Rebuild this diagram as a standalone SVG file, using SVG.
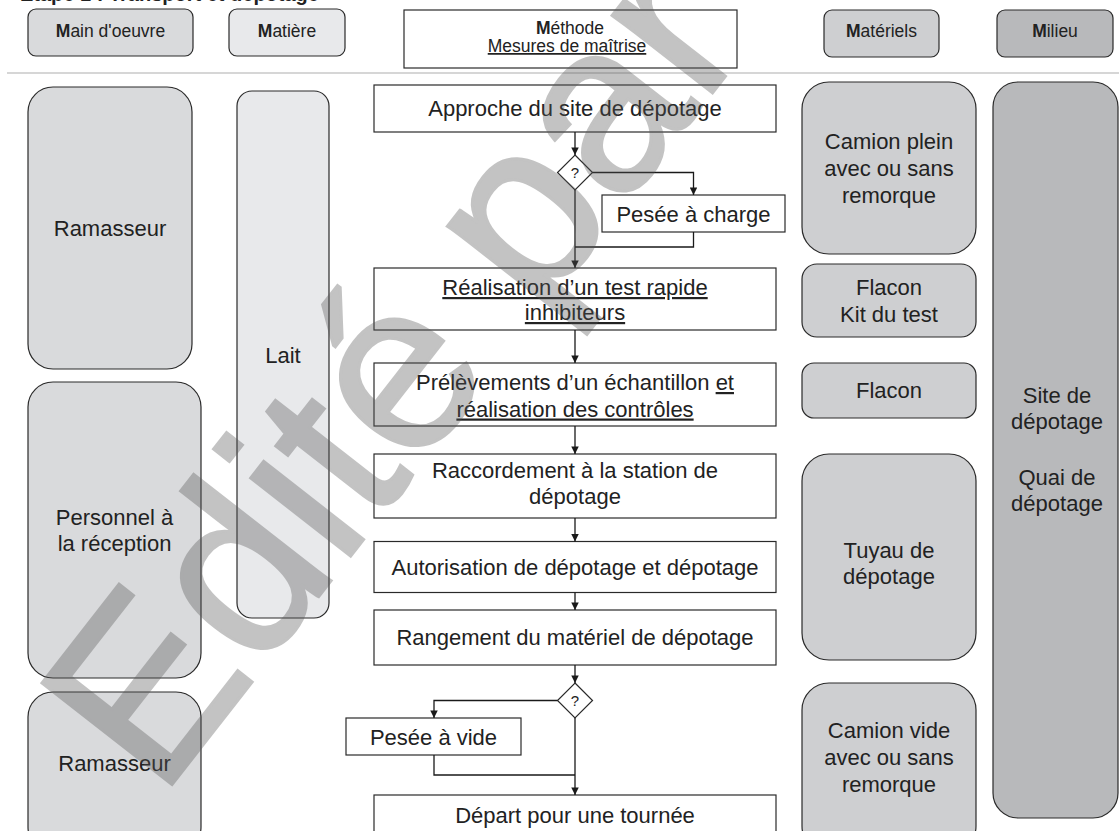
<svg xmlns="http://www.w3.org/2000/svg" width="1119" height="831" viewBox="0 0 1119 831">
<defs>
<marker id="arr" viewBox="0 0 10 10" refX="10" refY="5" markerWidth="8" markerHeight="7.5" orient="auto" markerUnits="userSpaceOnUse">
<path d="M0,0 L10,5 L0,10 z" fill="#1a1a1a"/>
</marker>
<style>
text{font-family:"Liberation Sans",Arial,sans-serif;fill:#222;}
.h{font-size:17.5px;text-anchor:middle;}
.t{font-size:22px;text-anchor:middle;}
.q{font-size:15px;text-anchor:middle;}
.b{font-weight:bold;}
.u{text-decoration:underline;}
.box{stroke:#2a2a2a;stroke-width:1.2;}
.c1{fill:#d9dadc;}
.c2{fill:#e8e9eb;}
.c3{fill:#cecfd1;}
.c4{fill:#b8b9bb;}
.w{fill:#fff;}
.ln{fill:none;stroke:#1a1a1a;stroke-width:1.3;}
.ar{marker-end:url(#arr);}
.wm{font-family:"Liberation Sans",Arial,sans-serif;font-size:240px;fill:#555;stroke:#555;stroke-width:3;opacity:0.35;}
</style>
</defs>
<rect width="1119" height="831" fill="#fff"/>
<text x="20" y="0.5" style="font-size:20px;font-weight:bold">Étape 1 : Transport et dépotage</text>

<g id="hdr-main"><rect class="box c1" x="28" y="9" width="165" height="47" rx="8"/><text class="h" x="110.5" y="37"><tspan class="b">M</tspan>ain d'oeuvre</text></g>
<g id="hdr-matiere"><rect class="box c2" x="229" y="9" width="116" height="47" rx="8"/><text class="h" x="287" y="37"><tspan class="b">M</tspan>atière</text></g>
<g id="hdr-methode"><rect class="box w" x="404" y="10" width="333" height="58"/><text class="h" x="570" y="34"><tspan class="b">M</tspan>éthode</text><text class="h u" x="567" y="52">Mesures de maîtrise</text></g>
<g id="hdr-materiels"><rect class="box c3" x="824" y="10" width="115" height="47" rx="8"/><text class="h" x="881.5" y="36.5"><tspan class="b">M</tspan>atériels</text></g>
<g id="hdr-milieu"><rect class="box c4" x="997" y="10" width="116" height="47" rx="8"/><text class="h" x="1055" y="36.5"><tspan class="b">M</tspan>ilieu</text></g>
<line x1="7" y1="73" x2="1119" y2="73" stroke="#c8c8c8" stroke-width="1.3"/>

<g id="mo-ramasseur1"><rect class="box c1" x="28" y="87" width="164" height="282" rx="25"/><text class="t" x="110" y="236">Ramasseur</text></g>
<g id="mo-personnel"><rect class="box c1" x="28" y="382" width="173" height="296" rx="25"/><text class="t" x="114.5" y="525">Personnel à</text><text class="t" x="114.5" y="551">la réception</text></g>
<g id="mo-ramasseur2"><rect class="box c1" x="28" y="692" width="173" height="160" rx="25"/><text class="t" x="114.5" y="771">Ramasseur</text></g>
<g id="mat-lait"><rect class="box c2" x="237" y="91" width="92" height="527" rx="15"/><text class="t" x="283" y="363">Lait</text></g>

<g id="m-approche"><rect class="box w" x="374" y="85" width="402" height="47"/><text class="t" x="575" y="116">Approche du site de dépotage</text></g>
<g id="m-d1"><path class="box w" d="M575,155 L592.5,172.5 L575,190 L557.5,172.5 Z"/><text class="q" x="575" y="178">?</text></g>
<g id="m-pesee-charge"><rect class="box w" x="602" y="195" width="183" height="37"/><text class="t" x="693.5" y="222">Pesée à charge</text></g>
<g id="m-test"><rect class="box w" x="374" y="268" width="402" height="62"/><text class="t u" x="575" y="295">Réalisation d’un test rapide</text><text class="t u" x="575" y="320">inhibiteurs</text></g>
<g id="m-prelev"><rect class="box w" x="374" y="363" width="402" height="63"/><text class="t" x="575" y="390">Prélèvements d’un échantillon <tspan class="u">et</tspan></text><text class="t u" x="575" y="416.5">réalisation des contrôles</text></g>
<g id="m-raccord"><rect class="box w" x="374" y="454" width="402" height="64"/><text class="t" x="575" y="477.5">Raccordement à la station de</text><text class="t" x="575" y="503.5">dépotage</text></g>
<g id="m-autor"><rect class="box w" x="374" y="541.5" width="402" height="51"/><text class="t" x="575" y="575">Autorisation de dépotage et dépotage</text></g>
<g id="m-rangement"><rect class="box w" x="374" y="610" width="402" height="55"/><text class="t" x="575" y="645">Rangement du matériel de dépotage</text></g>
<g id="m-d2"><path class="box w" d="M575,683 L592.5,700.5 L575,718 L557.5,700.5 Z"/><text class="q" x="575" y="706">?</text></g>
<g id="m-pesee-vide"><rect class="box w" x="346" y="718" width="175" height="37"/><text class="t" x="433.5" y="745">Pesée à vide</text></g>
<g id="m-depart"><rect class="box w" x="374" y="795" width="402" height="60"/><text class="t" x="575" y="823">Départ pour une tournée</text></g>

<g id="mt-camion-plein"><rect class="box c3" x="802" y="82" width="174" height="172" rx="27"/><text class="t" x="889" y="149">Camion plein</text><text class="t" x="889" y="176">avec ou sans</text><text class="t" x="889" y="203">remorque</text></g>
<g id="mt-flacon-kit"><rect class="box c3" x="802" y="264" width="174" height="73" rx="15"/><text class="t" x="889" y="295">Flacon</text><text class="t" x="889" y="321.5">Kit du test</text></g>
<g id="mt-flacon"><rect class="box c3" x="802" y="363" width="174" height="55" rx="12"/><text class="t" x="889" y="398">Flacon</text></g>
<g id="mt-tuyau"><rect class="box c3" x="802" y="454" width="174" height="206" rx="27"/><text class="t" x="889" y="558">Tuyau de</text><text class="t" x="889" y="584">dépotage</text></g>
<g id="mt-camion-vide"><rect class="box c3" x="802" y="683" width="174" height="170" rx="27"/><text class="t" x="889" y="738">Camion vide</text><text class="t" x="889" y="765">avec ou sans</text><text class="t" x="889" y="792">remorque</text></g>
<g id="mi-site"><rect class="box c4" x="993" y="82" width="125" height="736" rx="25"/><text class="t" x="1057" y="403">Site de</text><text class="t" x="1057" y="429">dépotage</text><text class="t" x="1057" y="485">Quai de</text><text class="t" x="1057" y="511">dépotage</text></g>

<g id="connectors">
<path class="ln ar" d="M575,132 V155"/>
<path class="ln ar" d="M592.5,172.5 H693.5 V195"/>
<path class="ln" d="M693.5,232 V247 H575"/>
<path class="ln ar" d="M575,190 V268"/>
<path class="ln ar" d="M575,330 V363"/>
<path class="ln ar" d="M575,426 V454"/>
<path class="ln ar" d="M575,518 V541.5"/>
<path class="ln ar" d="M575,592.5 V610"/>
<path class="ln ar" d="M575,665 V683"/>
<path class="ln ar" d="M557.5,700.5 H434 V718"/>
<path class="ln" d="M434,755 V775 H575"/>
<path class="ln ar" d="M575,718 V795"/>
</g>

<text class="wm" transform="translate(160,800) rotate(-52)">Edité par</text>
</svg>
